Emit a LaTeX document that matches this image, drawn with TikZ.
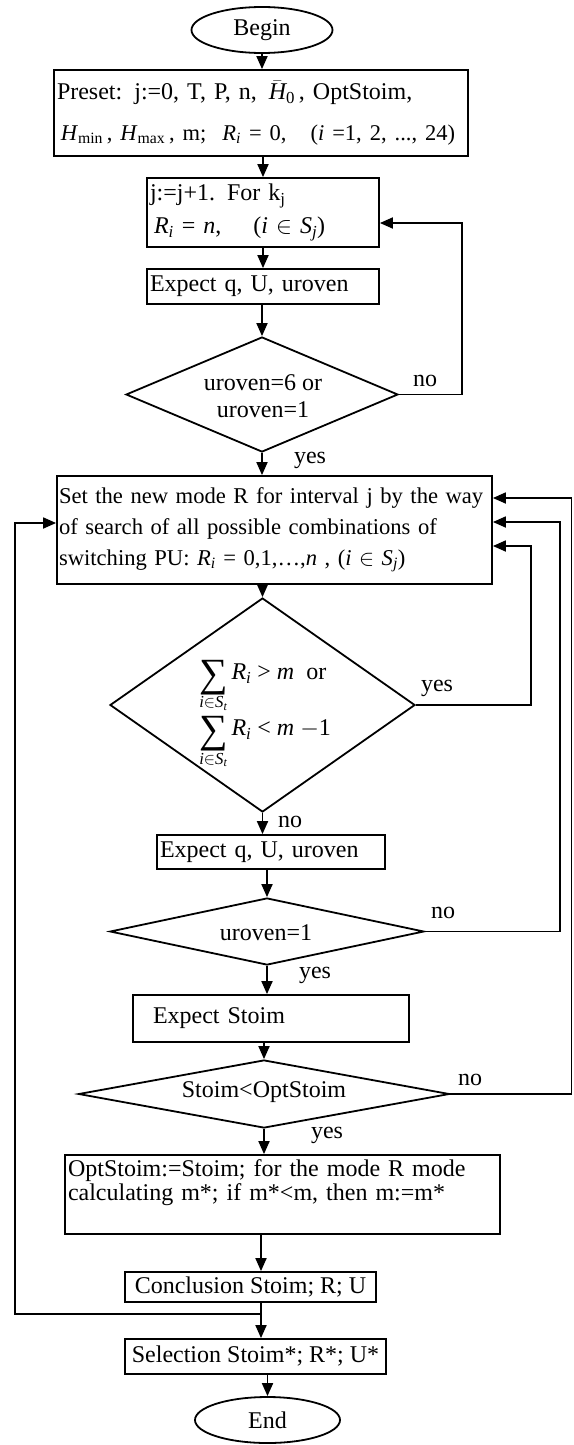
\RequirePackage{fix-cm}
\documentclass[tikz,border=0pt]{standalone}
\usepackage{fontspec}
\setmainfont{Liberation Serif}
\usetikzlibrary{shapes.geometric,arrows.meta,calc}
\newcommand{\vi}{\textit{i}}
\newcommand{\Ri}{\textit{R}\textsubscript{\textit{i}}}
\newcommand{\bigsum}{\mathop{\raisebox{-7pt}{\fontsize{40}{40}\selectfont ∑}}\limits}
\begin{document}
\begin{tikzpicture}[x=1pt,y=-1pt,
  font=\fontsize{24}{29}\selectfont,
  line width=1.8pt,
  box/.style={draw, rectangle, inner sep=0pt, align=left},
  term/.style={draw, ellipse, inner sep=0pt},
  dia/.style={draw, diamond, inner sep=0pt},
  arr/.style={-{Triangle[length=13pt,width=11pt]}},
  lbl/.style={inner sep=0pt}
]
\fill[white] (0,0) rectangle (573,1445);
\useasboundingbox (0,0) rectangle (573,1445);

\node[term, minimum width=141pt, minimum height=46pt] (begin) at (262,30) {Begin};
\node[box, minimum width=414pt, minimum height=86pt, text width=408pt] (preset) at (261,113)
 {\mbox{Preset: j:=0, T, P, n, \,$\bar{\mathit{H}}$\textsubscript{0}\,, OptStoim,}\\[12pt]
  \mbox{\fontsize{22.5}{29}\selectfont\,\textit{H}\textsubscript{min}\,, \textit{H}\textsubscript{max}\,, m;\ \ \Ri{} = 0,\ \ \ (\vi{} =1, 2, ..., 24)}};
\node[box, minimum width=232pt, minimum height=69pt, text width=226pt] (box2) at (263,212.5)
 {\mbox{j:=j+1. For k\textsubscript{j}}\\[4pt]
  \mbox{\,\Ri{} = \textit{n},\quad\ (\vi{} $\in$ \textit{S}\textsubscript{\textit{j}})}};
\node[box, minimum width=232pt, minimum height=35pt, text width=226pt] (box3) at (263,286.5)
 {Expect q, U, uroven};
\node[dia, minimum width=272pt, minimum height=115pt] (d1) at (262,394.5) {};
\node[align=center, inner sep=0pt] (d1t) at (263,396) {uroven=6 or\\[-2pt]uroven=1};
\node[box, minimum width=435pt, minimum height=108pt, text width=431pt,
      font=\fontsize{22.6}{29}\selectfont] (box4) at (274.5,530)
 {\mbox{Set the new mode R for interval j by the way}\\[2pt]
  \mbox{of search of all possible combinations of}\\[2pt]
  \mbox{switching PU: \Ri{} = 0,1,\ldots,\textit{n} , (\vi{} $\in$ \textit{S}\textsubscript{\textit{j}})}};
\node[dia, minimum width=305pt, minimum height=214pt] (d2) at (262.5,705) {};
\node[align=left, inner sep=0pt] (d2t) at (265,714)
 {$\bigsum_{\mathit{i}\in \mathit{S}_{\mathit{t}}}$\,\Ri{} > \textit{m}\ \ or\\[4pt]
  $\bigsum_{\mathit{i}\in \mathit{S}_{\mathit{t}}}$\,\Ri{} < \textit{m} $-$1};
\node[box, minimum width=228pt, minimum height=34pt, text width=222pt] (box5) at (271,852)
 {Expect q, U, uroven};
\node[dia, minimum width=314pt, minimum height=67pt] (d3) at (267,931.5) {};
\node[inner sep=0pt] (d3t) at (266,933) {uroven=1};
\node[box, minimum width=276pt, minimum height=47pt, text width=236pt] (box6) at (271,1018.5)
 {Expect Stoim};
\node[dia, minimum width=371pt, minimum height=68pt] (d4) at (264,1094) {};
\node[inner sep=0pt] (d4t) at (264,1092) {Stoim<OptStoim};
\node[box, minimum width=435pt, minimum height=79pt, text width=429pt] (box7) at (282.5,1194.5)
 {\mbox{OptStoim:=Stoim; for the mode R mode}\\[-5pt]
  \mbox{calculating m*; if m*<m, then m:=m*}\\
  \rule{0pt}{22pt}};
\node[box, minimum width=251pt, minimum height=30pt, align=center] (box8) at (250.5,1287)
 {Conclusion Stoim; R; U};
\node[box, minimum width=261pt, minimum height=35pt, align=center] (box9) at (255.5,1356.5)
 {Selection Stoim*; R*; U*};
\node[term, minimum width=145pt, minimum height=46pt] (end) at (267.5,1420) {End};

\node[lbl] (no1) at (425,381) {no};
\node[lbl] (yes1) at (310,460) {yes};
\node[lbl] (yes2) at (437,688) {yes};
\node[lbl] (no2) at (290,822) {no};
\node[lbl] (no3) at (443,913) {no};
\node[lbl] (yes3) at (315,975) {yes};
\node[lbl] (no4) at (470,1080) {no};
\node[lbl] (yes4) at (327,1135) {yes};

\coordinate (r1) at (462,223);
\coordinate (r2) at (531,546);
\coordinate (r3) at (560,522);
\coordinate (r4) at (571.5,498);
\coordinate (lft) at (15,523);
\coordinate (jn) at (261,1314);

\draw[arr] (begin.south) -- (begin.south |- preset.north);
\draw[arr] (box2.north |- preset.south) -- (box2.north);
\draw[arr] (box2.south) -- (box3.north);
\draw[arr] (box3.south -| d1.north) -- (d1.north);
\draw[arr] (d1.south) -- (d1.south |- box4.north);
\draw[arr] (box4.south -| d2.north) -- (d2.north);
\draw[arr] (d2.south) -- (d2.south |- box5.north);
\draw[arr] (box5.south -| d3.north) -- (d3.north);
\draw[arr] (d3.south) -- (d3.south |- box6.north);
\draw[arr] (box6.south -| d4.north) -- (d4.north);
\draw[arr] (d4.south) -- (d4.south |- box7.north);
\draw[arr] (jn |- box7.south) -- (jn |- box8.north);
\draw (jn |- box8.south) -- (jn);
\draw[arr] (jn) -- (jn |- box9.north);
\draw[arr] (box9.south -| end.north) -- (end.north);
\draw[arr] (d1.east) -| (r1) -- (box2.east |- r1);
\draw[arr] (d2.east) -| (r2) -- (box4.east |- r2);
\draw[arr] (d3.east) -| (r3) -- (box4.east |- r3);
\draw[arr] (d4.east) -| (r4) -- (box4.east |- r4);
\draw[arr] (jn) -- (lft |- jn) -- (lft) -- (box4.west |- lft);
\end{tikzpicture}
\end{document}
